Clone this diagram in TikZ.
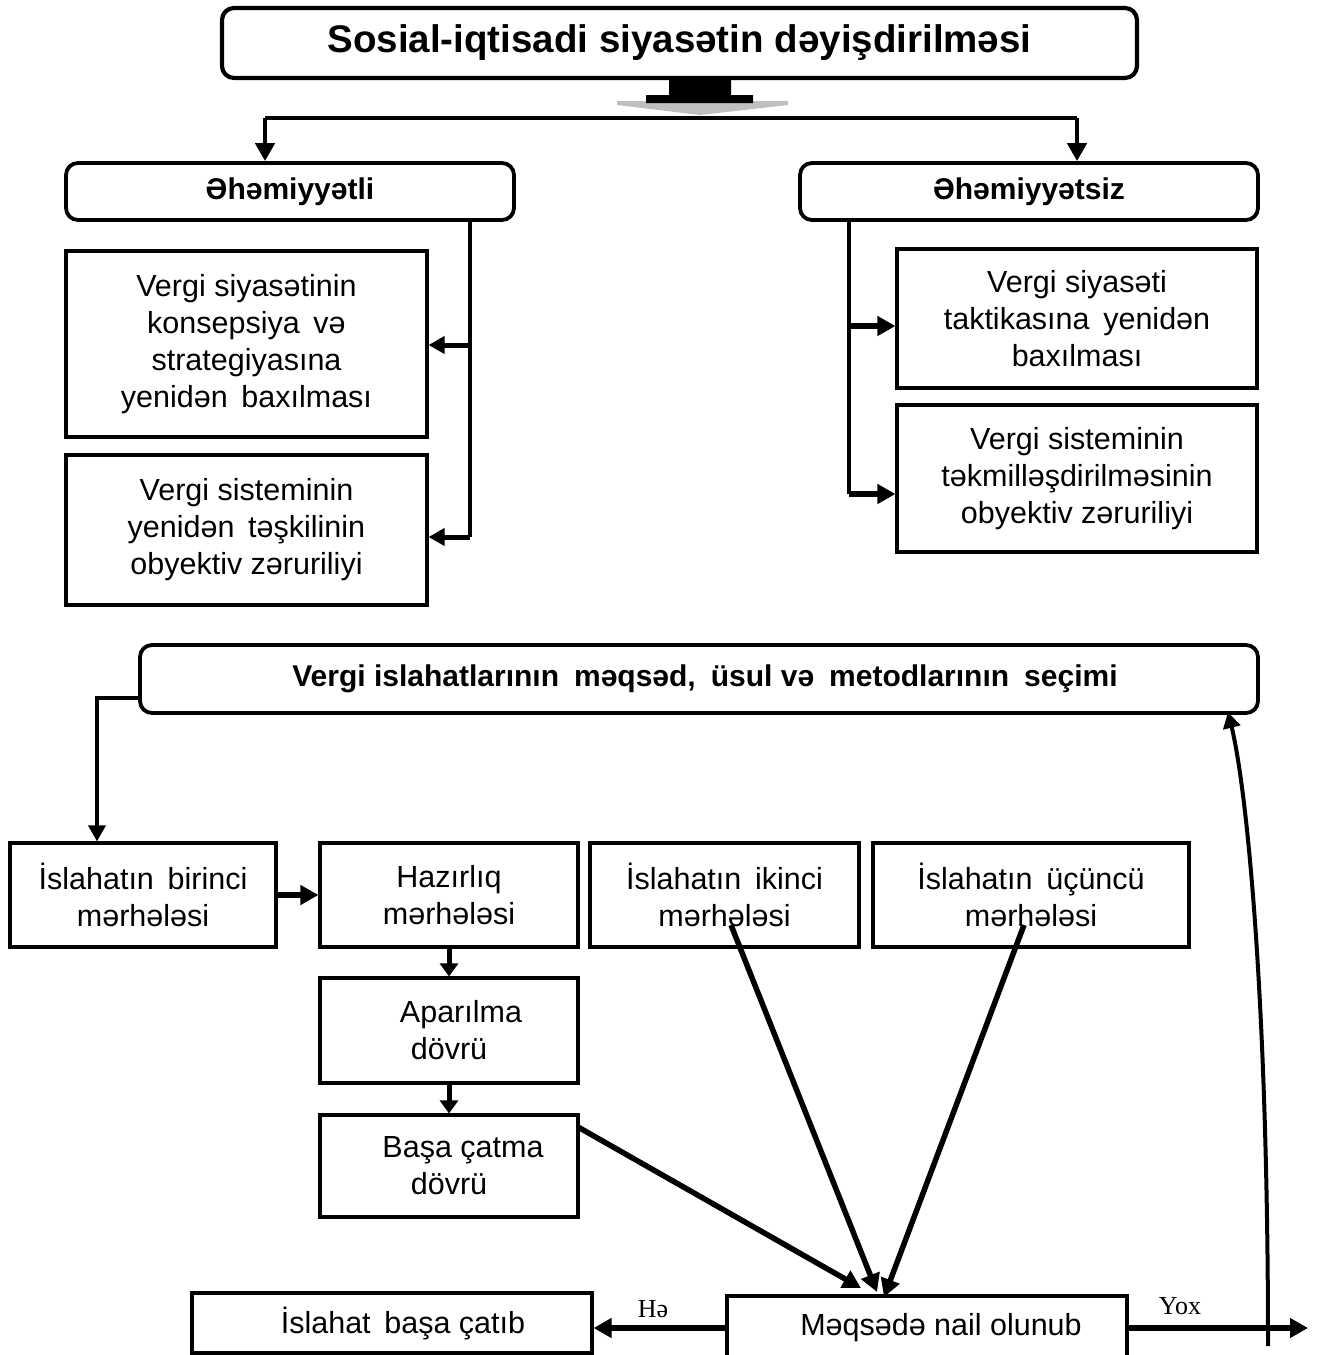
\documentclass[tikz,border=0pt]{standalone}
\usepackage{fontspec}
\setmainfont{Liberation Sans}
\newfontfamily\serifx{Liberation Serif}
\usetikzlibrary{arrows.meta,calc}
\newcommand\wsp{\hspace{0.45em}}
\begin{document}
\begin{tikzpicture}[x=1pt,y=-1pt,
  box/.style={draw,line width=3.2pt,inner sep=0pt,align=center,font=\fontsize{30.5}{37}\selectfont},
  rbox/.style={box,rounded corners=12pt,line width=3.8pt,font=\fontsize{30}{37}\selectfont\bfseries},
  conn/.style={line width=5.2pt,-{Triangle[length=18pt,width=19pt]}},
  smallconn/.style={line width=5pt,-{Triangle[length=13pt,width=18pt]}},
  thinconn/.style={line width=3.5pt,-{Triangle[length=16pt,width=17pt]}},
  lbl/.style={font=\serifx\fontsize{26}{30}\selectfont,inner sep=0pt},
]
\useasboundingbox (0,0) rectangle (1320,1355);

% title
\node[rbox,minimum width=915pt,minimum height=70pt,line width=4.2pt,font=\fontsize{38.5}{44}\selectfont\bfseries] (T) at (679.5,43) {Sosial-iqtisadi siyasətin dəyişdirilməsi};
% block arrow
\fill[black!25] (617,101) -- (788,101) -- (788,105) -- (700,115) -- (617,105) -- cycle;
\fill[black] (669,76) -- (731,76) -- (731,95) -- (753,95) -- (753,103) -- (646,103) -- (646,95) -- (669,95) -- cycle;

\node[rbox,minimum width=448pt,minimum height=57pt] (A1) at (290,191.5) {Əhəmiyyətli};
\node[rbox,minimum width=458pt,minimum height=57pt] (A2) at (1029,191.5) {Əhəmiyyətsiz};

\coordinate (hl) at (265,118);
\coordinate (hr) at (1077,118);
\draw[line width=4.5pt] (hl) -- (hr);
\draw[conn,line width=4.5pt] (hl) -- (hl |- A1.north);
\draw[conn,line width=4.5pt] (hr) -- (hr |- A2.north);

\node[box,minimum width=361pt,minimum height=186pt] (L1) at (246.5,344) {Vergi siyasətinin\\konsepsiya\wsp və\\strategiyasına\\yenidən\wsp baxılması};
\node[box,minimum width=361pt,minimum height=150pt] (L2) at (246.5,530) {Vergi sisteminin\\yenidən\wsp təşkilinin\\obyektiv zəruriliyi};
\node[box,minimum width=360pt,minimum height=139pt] (R1) at (1077,318.5) {Vergi siyasəti\\taktikasına\wsp yenidən\\baxılması};
\node[box,minimum width=360pt,minimum height=147pt] (R2) at (1077,478.5) {Vergi sisteminin\\təkmilləşdirilməsinin\\obyektiv zəruriliyi};

\coordinate (lx) at (470,345);
\coordinate (ly) at (470,537);
\draw[line width=4.5pt] (A1.south -| lx) -- (ly);
\draw[thinconn,line width=5pt] (lx) -- (lx -| L1.east);
\draw[thinconn,line width=5pt] (ly) -- (ly -| L2.east);

\coordinate (rx) at (849,326);
\coordinate (ry) at (849,494);
\draw[line width=4.5pt] (A2.south -| rx) -- (ry);
\draw[conn] (rx) -- (rx -| R1.west);
\draw[conn] (ry) -- (ry -| R2.west);

% lower part
\node[rbox,minimum width=1118pt,minimum height=68pt,font=\fontsize{30}{36}\selectfont\bfseries] (V) at (699,679) {\hspace*{12pt}Vergi islahatlarının\hspace{0.5em}məqsəd,\hspace{0.5em}üsul və\hspace{0.5em}metodlarının\hspace{0.5em}seçimi};

\node[box,minimum width=266pt,minimum height=104pt] (SA) at (143,895) {İslahatın\wsp birinci\\mərhələsi};
\node[box,minimum width=258pt,minimum height=104pt] (SB) at (449,895) {Hazırlıq\\mərhələsi};
\node[box,minimum width=269pt,minimum height=104pt] (SC) at (724.5,895) {İslahatın\wsp ikinci\\mərhələsi};
\node[box,minimum width=316pt,minimum height=104pt] (SD) at (1031,895) {İslahatın\wsp üçüncü\\mərhələsi};
\node[box,minimum width=258pt,minimum height=105pt] (SE) at (449,1030.5) {\hspace*{24pt}Aparılma\\dövrü};
\node[box,minimum width=258pt,minimum height=102pt] (SF) at (449,1166) {\hspace*{28pt}Başa çatma\\dövrü};
\node[box,minimum width=400pt,minimum height=64pt] (M) at (927,1328) {\hspace*{28pt}Məqsədə nail olunub};
\node[box,minimum width=400pt,minimum height=60pt] (D) at (392,1323) {\hspace*{22pt}İslahat\wsp başa çatıb};

\coordinate (vk) at (97,698);
\draw[thinconn] (vk -| V.west) -- (vk) -- (vk |- SA.north);
\draw[conn] (SA.east) -- (SB.west);
\draw[smallconn] (SB.south) -- (SE.north);
\draw[smallconn] (SE.south) -- (SF.north);

\coordinate (f1) at (578,1127);
\coordinate (c1) at (731,925);
\coordinate (d1) at (1024,925);
\coordinate (m1) at (861,1288);
\coordinate (m2) at (877,1292);
\coordinate (m3) at (884,1297);
\draw[conn,line width=5.5pt] (f1) -- (m1);
\draw[conn,line width=5.5pt] (c1) -- (m2);
\draw[conn,line width=5.5pt] (d1) -- (m3);

\draw[conn] (M.west) -- (M.west -| D.east) node[pos=0.55,above=8pt,lbl] {Hə};
\coordinate (yend) at (1308,1328);
\draw[conn] (M.east) -- (yend);
\node[lbl] (yox) at (1180,1306) {Yox};

\coordinate (fb) at (1268,1346);
\coordinate (fbt) at (1228,712);
\draw[thinconn,line width=4pt] (fb) .. controls (1268,1000) and (1247,790) .. (fbt);
\end{tikzpicture}
\end{document}
